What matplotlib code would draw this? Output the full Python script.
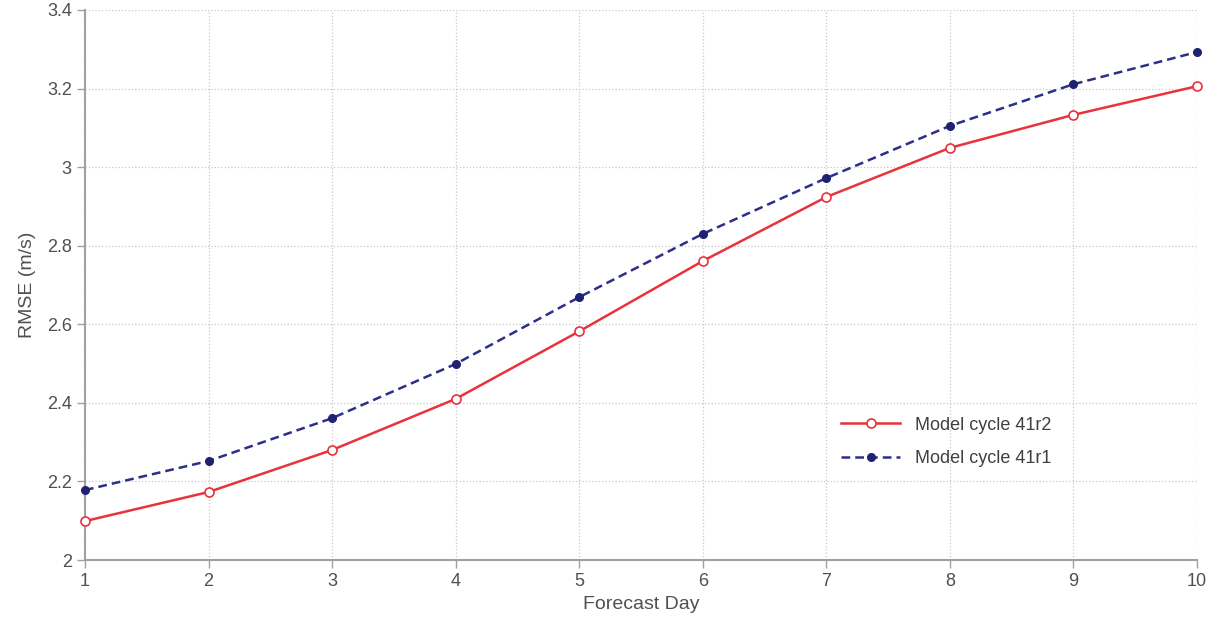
import matplotlib
matplotlib.use("Agg")
import matplotlib.pyplot as plt
import numpy as np

plt.rcParams['font.family'] = ['Liberation Sans', 'DejaVu Sans']

days = [1, 2, 3, 4, 5, 6, 7, 8, 9, 10]
rmse_41r2 = [2.099, 2.173, 2.280, 2.410, 2.582, 2.761, 2.924, 3.049, 3.133, 3.206]
rmse_41r1 = [2.178, 2.252, 2.361, 2.499, 2.669, 2.830, 2.972, 3.105, 3.211, 3.293]
yticks = [2, 2.2, 2.4, 2.6, 2.8, 3, 3.2, 3.4]
ytick_labels = ['2', '2.2', '2.4', '2.6', '2.8', '3', '3.2', '3.4']

fig = plt.figure(figsize=(12.07, 6.23), dpi=100)
ax = fig.add_axes([0.0704, 0.1011, 0.9213, 0.8829])

ax.plot(days, rmse_41r2, '-', color='#e8323c', lw=1.8, marker='o', ms=6.5,
        mfc='white', mec='#e8323c', mew=1.2, label='Model cycle 41r2',
        zorder=3, clip_on=False)
ax.plot(days, rmse_41r1, '--', color='#2b2f8a', lw=1.8, dashes=(3.5, 2), marker='o', ms=5.5,
        mfc='#1f2270', mec='#1f2270', label='Model cycle 41r1',
        zorder=3, clip_on=False)

ax.set_xlim(1, 10)
ax.set_ylim(2, 3.4)
ax.set_xticks(days)
ax.set_yticks(yticks)
ax.set_yticklabels(ytick_labels)
ax.grid(True, color='#c8c8c8', linestyle=':', linewidth=0.9)

for side in ['top', 'right']:
    ax.spines[side].set_visible(False)
for side in ['left', 'bottom']:
    ax.spines[side].set_color('#a0a0a0')
    ax.spines[side].set_linewidth(1.5)
ax.tick_params(colors='#505050', labelsize=13, length=6, width=1, direction='out')
ax.tick_params(axis='both', color='#a0a0a0')

ax.set_xlabel('Forecast Day', fontsize=14, color='#505050', labelpad=4)
ax.set_ylabel('RMSE (m/s)', fontsize=14, color='#505050', labelpad=8)

leg = ax.legend(loc='upper left', bbox_to_anchor=(0.665, 0.29), frameon=False,
                fontsize=13, handlelength=3.3, labelspacing=0.9)
for t in leg.get_texts():
    t.set_color('#404040')

fig.savefig('out.png', dpi=100)
